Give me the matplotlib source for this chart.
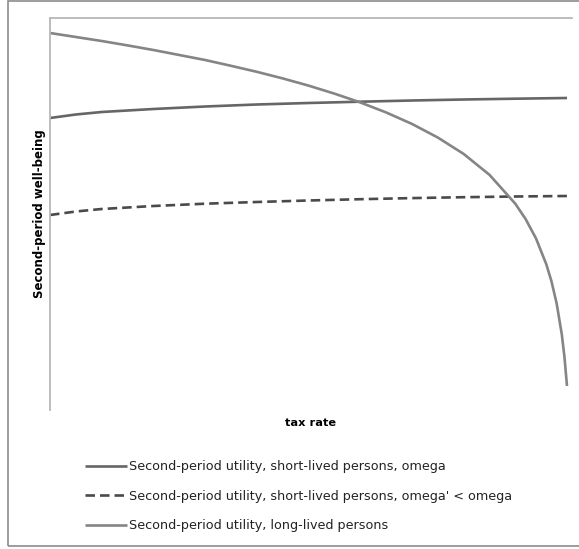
import matplotlib
matplotlib.use("Agg")
import matplotlib.pyplot as plt
from matplotlib.patches import Rectangle

# Data (tax rate 0..1, well-being in arbitrary units)
tax_long = [0.0, 0.05, 0.1, 0.15, 0.2, 0.25, 0.3, 0.35, 0.4, 0.45, 0.5, 0.55,
            0.6, 0.65, 0.7, 0.75, 0.8, 0.85, 0.9, 0.92, 0.94, 0.96, 0.97,
            0.98, 0.99, 0.995, 1.0]
long_lived = [377, 373, 369, 364.6, 360, 355, 350, 344.2, 338.2, 331.6, 324.4, 316.4,
              307.6, 297.6, 286.1, 272.5, 256.1, 235.2, 206.3, 190.9, 171.6, 145.7, 128.6,
              106.5, 75.4, 53.4, 24]

tax_short = [0.0, 0.05, 0.1, 0.2, 0.3, 0.4, 0.5, 0.6, 0.7, 0.8, 0.9, 1.0]
short_omega = [292, 295.5, 298, 301, 303.5, 305.5, 307, 308.3, 309.5, 310.5, 311.3, 312]
short_omega2 = [195, 198.5, 201, 204, 206.3, 208, 209.5, 210.8, 211.9, 212.8, 213.5, 214]

labels = ["Second-period utility, short-lived persons, omega",
          "Second-period utility, short-lived persons, omega' < omega",
          "Second-period utility, long-lived persons"]
xlabel = "tax rate"
ylabel = "Second-period well-being"

W, H = 579, 549
fig = plt.figure(figsize=(W / 100, H / 100), dpi=100)
fig.patch.set_facecolor("white")

# outer border
fig.patches.append(Rectangle((8 / W, 3 / H), 1.2, 1 - 3 / H - 0.5 / H, transform=fig.transFigure,
                             fill=False, edgecolor="#8c8c8c", linewidth=1.2, zorder=0))

ax = fig.add_axes([50 / W, 1 - 410 / H, (572 - 50) / W, (410 - 18) / H])
l1, = ax.plot(tax_short, short_omega, color="#666666", lw=1.9, solid_capstyle="butt")
l2, = ax.plot(tax_short, short_omega2, color="#4a4a4a", lw=1.9, dashes=(3.6, 1.9))
l3, = ax.plot(tax_long, long_lived, color="#858585", lw=1.9, solid_capstyle="butt")

ax.set_xlim(0, 522 / 517)
ax.set_ylim(0, 392)
ax.set_xticks([])
ax.set_yticks([])
for s in ["right", "bottom"]:
    ax.spines[s].set_visible(False)
for s in ["left", "top"]:
    ax.spines[s].set_color("#b8b8b8")
    ax.spines[s].set_linewidth(1.3)

fig.text(311 / W, 1 - 423 / H, xlabel, ha="center", va="center",
         fontsize=8.2, fontweight="bold", family="DejaVu Sans")
fig.text(40 / W, 1 - 214 / H, ylabel, ha="center", va="center", rotation=90,
         fontsize=8.5, fontweight="bold", family="DejaVu Sans")

leg = fig.legend([l1, l2, l3], labels, loc="upper left",
                 bbox_to_anchor=(85 / W, 1 - 460 / H), frameon=False,
                 prop={"family": "DejaVu Sans", "size": 9.2},
                 handlelength=3.3, handletextpad=0.15,
                 labelspacing=1.3, borderaxespad=0, borderpad=0)
for t in leg.get_texts():
    t.set_color("#222222")

fig.savefig("out.png", dpi=100, facecolor="white")
